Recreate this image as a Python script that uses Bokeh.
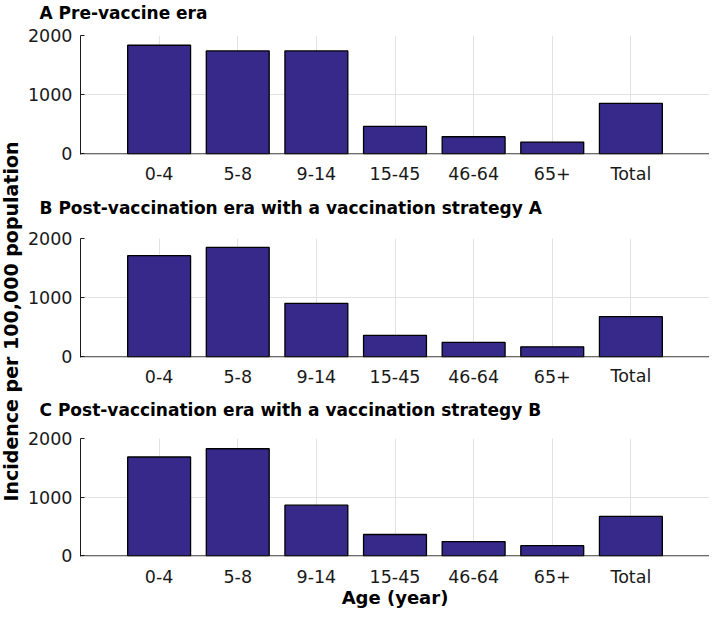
import math
from bokeh.plotting import figure
from bokeh.layouts import row, column
from bokeh.models import Range1d, FactorRange, FixedTicker, Label, Span, ColumnDataSource
from bokeh.core.properties import value
from bokeh.embed import file_html
from bokeh.resources import INLINE

# ---- data ----
categories = ["0-4", "5-8", "9-14", "15-45", "46-64", "65+", "Total"]
pre_vaccine = [1835, 1740, 1740, 465, 290, 200, 855]
strategy_a = [1710, 1850, 905, 365, 245, 170, 680]
strategy_b = [1685, 1825, 865, 365, 245, 175, 672]
y_ticks = [0, 1000, 2000]
titles = [
    "A Pre-vaccine era",
    "B Post-vaccination era with a vaccination strategy A",
    "C Post-vaccination era with a vaccination strategy B",
]
y_label = "Incidence per 100,000 population"
x_label = "Age (year)"

FONT = "DejaVu Sans"
BAR = "#36298A"
GRID = "#e2e2e2"
INK = "#1a1a1a"
LEFT = 56      # space for the y tick labels
PW = 685       # width of each panel column
YLAB_W = 24    # width of the shared y-axis title strip
TICK_SIZE = "17.5px"


def blank(width, height, x_range=None, left=0):
    f = figure(width=width, height=height,
               x_range=x_range if x_range is not None else Range1d(0, width),
               y_range=Range1d(0, height),
               output_backend="svg", toolbar_location=None,
               x_axis_location=None, y_axis_location=None,
               min_border_left=left, min_border_right=0,
               min_border_top=0, min_border_bottom=0)
    f.grid.visible = False
    f.outline_line_color = None
    f.background_fill_color = None
    return f


def title_fig(text, height):
    f = blank(PW, height, left=LEFT)
    f.title.text = text
    f.title.align = "left"
    f.title.offset = -41
    f.title.standoff = 0
    f.title.text_font = FONT
    f.title.text_font_size = "17px"
    f.title.text_font_style = "bold"
    f.title.text_color = "black"
    return f


def panel(values, frame_h, top=11, bottom=10):
    p = figure(
        width=PW, height=top + frame_h + bottom,
        x_range=FactorRange(factors=categories, range_padding=0.5,
                            range_padding_units="absolute"),
        y_range=Range1d(-10, 2000),
        output_backend="svg", toolbar_location=None,
        x_axis_location=None,
        min_border_left=LEFT, min_border_right=0,
        min_border_top=top, min_border_bottom=bottom,
    )
    src = ColumnDataSource(dict(cat=categories, val=values))
    p.vbar(x="cat", top="val", width=0.8, source=src,
           fill_color=BAR, line_color="black", line_width=1.3)
    p.outline_line_color = None
    p.xgrid.grid_line_color = GRID
    p.ygrid.grid_line_color = GRID
    p.add_layout(Span(location=0, dimension="width", line_color=INK, line_width=1))
    p.yaxis.ticker = FixedTicker(ticks=y_ticks)
    p.yaxis.major_tick_in = 4
    p.yaxis.major_tick_out = 0
    p.yaxis.major_tick_line_color = INK
    p.yaxis.minor_tick_line_color = None
    p.yaxis.major_label_standoff = 8
    p.yaxis.major_label_text_font = FONT
    p.yaxis.major_label_text_font_size = TICK_SIZE
    p.yaxis.major_label_text_color = INK
    p.yaxis.axis_line_color = INK
    return p


def tick_strip(x_range, height, baseline, extra=None):
    f = blank(PW, height, x_range=x_range, left=LEFT)
    src = ColumnDataSource(dict(cat=categories, y=[baseline] * len(categories),
                                lab=categories))
    f.text(x="cat", y="y", text="lab", source=src, text_align="center",
           text_baseline="alphabetic", text_font=value(FONT),
           text_font_size=value(TICK_SIZE), text_color=INK)
    if extra is not None:
        txt, base = extra
        f.add_layout(Label(x=3.5, y=base, text=txt, text_align="center",
                           text_baseline="alphabetic", text_font=FONT,
                           text_font_size="18px", text_font_style="bold",
                           text_color="black"))
    return f


t_a = title_fig(titles[0], 24)
p_a = panel(pre_vaccine, 119)
s_a = tick_strip(p_a.x_range, 31, 22)
t_b = title_fig(titles[1], 30)
p_b = panel(strategy_a, 119, top=13)
s_b = tick_strip(p_b.x_range, 30, 21.5)
t_c = title_fig(titles[2], 28)
p_c = panel(strategy_b, 118, top=13)
s_c = tick_strip(p_c.x_range, 42, 32, extra=(x_label, 11.5))

ylab = blank(YLAB_W, 608)
ylab.add_layout(Label(x=10, y=287, text=y_label, angle=math.pi / 2,
                      text_align="center", text_baseline="middle",
                      text_font=FONT, text_font_size="19px",
                      text_font_style="bold", text_color="black"))

layout = row(ylab, column(t_a, p_a, s_a, t_b, p_b, s_b, t_c, p_c, s_c))
open("out.html", "w").write(file_html(layout, INLINE))
